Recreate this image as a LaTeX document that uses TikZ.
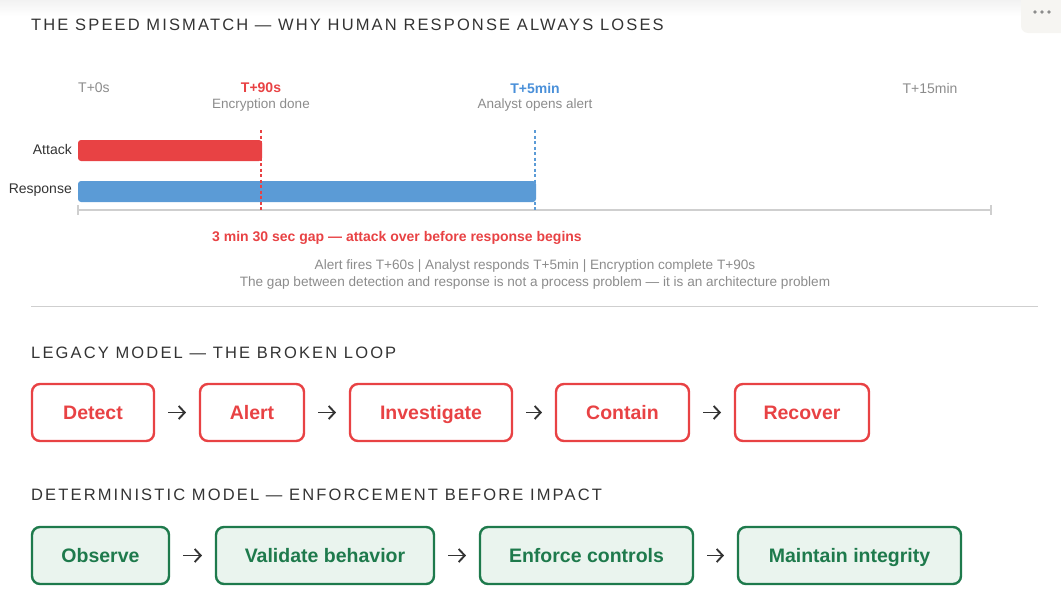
\documentclass[tikz,border=0pt]{standalone}
\usepackage{fontspec}
\setmainfont{Liberation Sans}
\newfontfamily\headfont[LetterSpace=13]{Liberation Sans}
\usetikzlibrary{positioning}
\usetikzlibrary{arrows.meta}
\definecolor{attackred}{HTML}{E84244}
\definecolor{respblue}{HTML}{5B9BD6}
\definecolor{labelblue}{HTML}{4A90D9}
\definecolor{inkgray}{HTML}{333333}
\definecolor{softgray}{HTML}{8C8C8C}
\definecolor{rulegray}{HTML}{CFCFCF}
\definecolor{detgreen}{HTML}{1E7A4C}
\definecolor{detfill}{HTML}{EAF4EE}
\definecolor{menubg}{HTML}{F6F5F2}
\tikzset{heading/.style={anchor=west,inner sep=0pt,text=inkgray,
           font=\headfont\fontsize{16.5}{16.5}\selectfont},
         tick/.style={inner sep=0pt,text=softgray,font=\fontsize{14}{14}\selectfont},
         sub/.style={inner sep=0pt,text=softgray,font=\fontsize{13.5}{14}\selectfont},
         rowlabel/.style={anchor=east,inner sep=0pt,text=inkgray,font=\fontsize{14}{14}\selectfont},
         note/.style={inner sep=0pt,text=softgray,font=\fontsize{13.6}{14}\selectfont},
         axisline/.style={draw=rulegray,line width=1.2pt},
         marker/.style={line width=1.3pt,dash pattern=on 3pt off 2.5pt},
         legacy/.style={draw=attackred,line width=2.4pt,rounded corners=8pt,
           minimum height=57pt,outer sep=0pt,text=attackred,
           text height=14pt,text depth=0pt,
           font=\fontsize{19.5}{20}\selectfont\bfseries},
         determ/.style={legacy,draw=detgreen,fill=detfill,text=detgreen},
         flow/.style={draw=inkgray,line width=1.9pt,
           -{Straight Barb[length=6pt,width=13pt]},shorten <=14pt,shorten >=14pt},
         }

\begin{document}
\begin{tikzpicture}[x=1pt,y=-1pt]
\useasboundingbox (0,0) rectangle (1061,611);
% faint top band and menu button
\shade[top color=black!5,bottom color=white] (0,0) rectangle (1061,16);
\fill[menubg,rounded corners=7pt] (1021,-10) rectangle (1075,33);
\foreach \dx in {1035,1042,1049}
  \fill[softgray] (\dx,12) circle (1.8pt);

\node[heading] (title) at (31,25) {THE SPEED MISMATCH — WHY HUMAN RESPONSE ALWAYS LOSES};

% timeline
\coordinate (t0) at (78,210);
\coordinate (t90) at (261,210);
\coordinate (t5) at (535,210);
\coordinate (t15) at (991,210);
\coordinate (m90) at (261,130);
\coordinate (m5) at (535,130);

\node[tick,anchor=west] (l0) at (78,88) {T+0s};
\node[tick,text=attackred,font=\fontsize{14}{14}\selectfont\bfseries] (l90) at (261,88) {T+90s};
\node[sub] (s90) at (261,105) {Encryption done};
\node[tick,text=labelblue,font=\fontsize{14}{14}\selectfont\bfseries] (l5) at (535,88) {T+5min};
\node[sub] (s5) at (535,105) {Analyst opens alert};
\node[tick] (l15) at (930,88) {T+15min};

\fill[attackred,rounded corners=3pt] (78,140) rectangle (262,161);
\fill[respblue,rounded corners=3pt] (78,181) rectangle (536,202);
\node[rowlabel] (attack) at (72,149) {Attack};
\node[rowlabel] (response) at (72,190) {Response};

\draw[axisline] (t0) -- (t15);
\draw[axisline] ([yshift=5pt]t0) -- ([yshift=-5pt]t0);
\draw[axisline] ([yshift=5pt]t15) -- ([yshift=-5pt]t15);
\draw[marker,color=attackred] (m90) -- ([yshift=-2pt]t90);
\draw[marker,color=respblue] (m5) -- ([yshift=-2pt]t5);

\node[anchor=west,inner sep=0pt,text=attackred,font=\fontsize{14}{14}\selectfont\bfseries]
  (gap) at (212,238) {3 min 30 sec gap — attack over before response begins};
\node[note] (note1) at (535,266) {Alert fires T+60s | Analyst responds T+5min | Encryption complete T+90s};
\node[note] (note2) at (535,283) {The gap between detection and response is not a process problem — it is an architecture problem};

\coordinate (sepL) at (31,306);
\coordinate (sepR) at (1038,306);
\draw[draw=rulegray,line width=0.8pt] (sepL) -- (sepR);

% legacy loop
\node[heading] (legacyhead) at (31,353) {LEGACY MODEL — THE BROKEN LOOP};
\node[legacy,minimum width=122pt] (detect) at (93,412.5) {Detect};
\node[legacy,minimum width=104pt,right=46pt of detect] (alert) {Alert};
\node[legacy,minimum width=162pt,right=46pt of alert] (investigate) {Investigate};
\node[legacy,minimum width=133pt,right=44pt of investigate] (contain) {Contain};
\node[legacy,minimum width=134pt,right=46pt of contain] (recover) {Recover};
\foreach \a/\b in {detect/alert,alert/investigate,investigate/contain,contain/recover}
  \draw[flow] (\a) -- (\b);

% deterministic model
\node[heading] (dethead) at (31,495) {DETERMINISTIC MODEL — ENFORCEMENT BEFORE IMPACT};
\node[determ,minimum width=137pt] (observe) at (100.5,555.5) {Observe};
\node[determ,minimum width=218pt,right=47pt of observe] (validate) {Validate behavior};
\node[determ,minimum width=213pt,right=46pt of validate] (enforce) {Enforce controls};
\node[determ,minimum width=223pt,right=45pt of enforce] (maintain) {Maintain integrity};
\foreach \a/\b in {observe/validate,validate/enforce,enforce/maintain}
  \draw[flow] (\a) -- (\b);
\end{tikzpicture}
\end{document}
